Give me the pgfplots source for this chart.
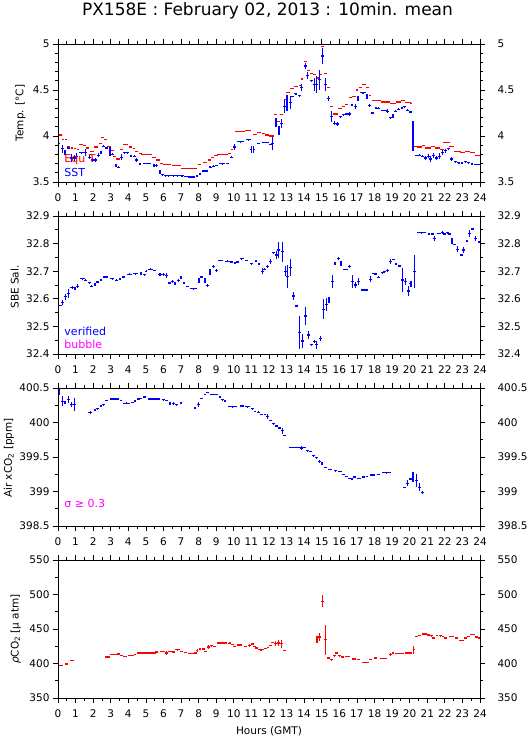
\documentclass[border=0pt]{standalone}
\usepackage{fontspec}
\setmainfont{DejaVu Sans}
\usepackage{pgfplots}
\pgfplotsset{compat=1.18}
\usepackage{pgfplotstable}

\definecolor{pblue}{RGB}{0,0,255}
\definecolor{pred}{RGB}{255,0,0}
\definecolor{pmag}{RGB}{255,0,255}

\pgfplotstableread{
x y ex ey
0.10 4.01 0.10 0
0.28 3.96 0.08 0
0.45 3.96 0.08 0
0.62 3.89 0.08 0
0.80 3.87 0.08 0
0.97 3.86 0.08 0
1.14 3.85 0.08 0
1.30 3.91 0.12 0
1.52 3.90 0.10 0
1.70 3.87 0.08 0
1.92 3.83 0.10 0
2.17 3.88 0.10 0
2.40 3.92 0.08 0
2.55 3.98 0.08 0
2.72 3.96 0.08 0
2.90 3.89 0.10 0
3.08 3.84 0.08 0
3.22 3.78 0.10 0
3.42 3.75 0.10 0
3.62 3.85 0.08 0
3.85 3.91 0.15 0
4.12 3.88 0.10 0
4.32 3.86 0.08 0
4.48 3.83 0.08 0
4.68 3.81 0.08 0
4.95 3.80 0.25 0
5.25 3.80 0.10 0
5.45 3.77 0.10 0
5.70 3.74 0.12 0
5.90 3.70 0.08 0
6.20 3.69 0.25 0
6.75 3.68 0.25 0
7.45 3.65 0.45 0
8.05 3.69 0.10 0
8.35 3.71 0.10 0
8.62 3.74 0.08 0
8.80 3.77 0.10 0
9.00 3.79 0.10 0
9.35 3.80 0.30 0
9.75 3.81 0.08 0
9.90 3.85 0.08 0
10.35 4.05 0.30 0
10.80 4.06 0.15 0
11.20 4.02 0.10 0
11.45 4.04 0.12 0
11.70 4.03 0.10 0
11.90 4.01 0.10 0
12.15 4.00 0.15 0
12.37 4.23 0.10 0
12.55 4.16 0.08 0
12.72 4.23 0.08 0
12.92 4.40 0.08 0
13.08 4.47 0.10 0
13.30 4.52 0.10 0
13.55 4.54 0.12 0
13.78 4.55 0.08 0
13.90 4.62 0.06 0
14.06 4.81 0.08 0
14.25 4.71 0.08 0
14.42 4.68 0.08 0
14.60 4.67 0.08 0
14.76 4.63 0.08 0
14.92 4.67 0.08 0
15.05 4.97 0.08 0
15.20 4.68 0.08 0
15.38 4.53 0.08 0
15.55 4.32 0.08 0
15.78 4.24 0.16 0
16.05 4.30 0.10 0
16.22 4.32 0.08 0
16.42 4.34 0.10 0
16.62 4.42 0.08 0
16.85 4.43 0.12 0
17.00 4.50 0.08 0
17.20 4.53 0.10 0
17.40 4.56 0.10 0
17.60 4.53 0.08 0
17.72 4.44 0.06 0
17.95 4.39 0.10 0
18.20 4.39 0.15 0
18.62 4.37 0.27 0
19.05 4.35 0.15 0
19.35 4.37 0.15 0
19.62 4.39 0.12 0
19.90 4.36 0.15 0
20.08 4.35 0.08 0
20.28 3.89 0.12 0
20.55 3.88 0.15 0
20.78 3.90 0.10 0
21.05 3.87 0.15 0
21.33 3.89 0.12 0
21.60 3.87 0.15 0
21.85 3.85 0.12 0
22.10 3.93 0.18 0
22.38 3.89 0.12 0
22.70 3.83 0.20 0
23.02 3.82 0.13 0
23.30 3.83 0.15 0
23.57 3.82 0.13 0
23.85 3.79 0.15 0
}\tEqu

\pgfplotstableread{
x y ex ey
0.05 3.92 0.06 0
0.25 3.86 0.08 0.04
0.40 3.82 0.08 0.03
0.58 3.87 0.08 0.01
0.78 3.76 0.08 0.04
0.92 3.76 0.08 0.03
1.07 3.78 0.08 0.03
1.35 3.82 0.17 0.01
1.55 3.82 0.08 0.04
1.78 3.77 0.08 0.02
1.97 3.74 0.08 0.02
2.12 3.74 0.08 0.02
2.30 3.79 0.08 0.02
2.45 3.82 0.08 0.02
2.60 3.89 0.08 0.01
2.77 3.87 0.08 0.01
2.96 3.83 0.08 0.05
3.10 3.80 0.08 0.01
3.30 3.68 0.08 0.02
3.46 3.66 0.08 0.01
3.62 3.77 0.08 0.03
3.80 3.82 0.08 0.01
3.96 3.82 0.08 0.01
4.15 3.78 0.08 0.01
4.33 3.78 0.08 0.01
4.48 3.74 0.08 0.02
4.66 3.70 0.08 0.01
5.07 3.70 0.23 0
5.46 3.68 0.08 0.02
5.62 3.68 0.08 0.02
5.80 3.61 0.08 0.02
5.95 3.58 0.08 0.01
6.12 3.57 0.08 0.005
6.30 3.57 0.10 0.005
6.55 3.57 0.12 0.005
6.80 3.57 0.12 0.005
7.05 3.57 0.12 0.005
7.30 3.56 0.12 0.005
7.60 3.555 0.18 0
7.90 3.57 0.08 0.005
8.08 3.59 0.08 0.01
8.27 3.62 0.08 0.01
8.45 3.62 0.08 0.01
8.65 3.66 0.08 0.01
8.83 3.67 0.08 0.01
9.02 3.68 0.08 0.01
9.35 3.70 0.17 0.005
9.62 3.70 0.08 0
9.87 3.77 0.08 0.01
10.05 3.88 0.08 0.03
10.40 3.94 0.20 0.005
10.85 3.96 0.13 0.005
11.00 3.85 0.06 0.04
11.13 3.85 0.06 0.04
11.40 3.92 0.10 0.005
11.80 3.93 0.20 0.005
12.07 3.91 0.08 0.005
12.20 3.92 0.06 0.07
12.40 4.15 0.08 0.05
12.57 4.06 0.08 0.05
12.73 4.14 0.08 0.05
12.87 4.32 0.08 0.07
13.02 4.36 0.08 0.09
13.20 4.36 0.08 0.07
13.35 4.43 0.08 0.01
13.53 4.46 0.08 0.01
13.72 4.44 0.08 0.01
13.87 4.53 0.08 0.04
14.06 4.76 0.08 0.03
14.21 4.66 0.08 0.04
14.40 4.60 0.08 0.01
14.57 4.56 0.08 0.07
14.72 4.56 0.08 0.09
14.88 4.61 0.08 0.11
15.05 4.87 0.08 0.09
15.20 4.56 0.08 0.07
15.39 4.41 0.08 0.03
15.54 4.21 0.08 0.06
15.73 4.14 0.08 0.02
15.90 4.13 0.08 0.02
16.05 4.21 0.08 0.01
16.24 4.23 0.08 0.01
16.43 4.24 0.08 0.01
16.58 4.24 0.08 0.02
16.72 4.34 0.08 0.01
16.90 4.32 0.08 0.03
17.06 4.41 0.08 0.03
17.35 4.47 0.16 0.005
17.57 4.43 0.08 0.03
17.70 4.33 0.08 0.02
17.90 4.25 0.08 0.01
18.08 4.30 0.08 0.01
18.23 4.30 0.08 0.01
18.55 4.28 0.16 0.005
18.75 4.27 0.08 0.02
18.90 4.20 0.08 0.01
19.05 4.22 0.08 0.02
19.18 4.27 0.08 0.01
19.37 4.29 0.08 0.01
19.56 4.30 0.08 0.01
19.72 4.32 0.08 0.005
19.87 4.28 0.08 0.01
20.04 4.26 0.08 0.01
20.19 4.00 0.08 0.16
20.38 3.79 0.08 0.005
20.57 3.79 0.08 0.01
20.72 3.78 0.08 0.01
20.90 3.76 0.08 0.02
21.05 3.78 0.08 0.02
21.20 3.75 0.08 0.03
21.37 3.79 0.08 0.03
21.52 3.76 0.08 0.02
21.70 3.78 0.08 0.03
21.87 3.82 0.08 0.03
22.04 3.84 0.08 0.02
22.20 3.86 0.08 0.01
22.40 3.75 0.08 0.02
22.60 3.72 0.08 0.005
22.80 3.71 0.08 0.01
22.98 3.71 0.08 0.01
23.17 3.72 0.08 0.01
23.36 3.71 0.08 0.01
23.55 3.70 0.08 0.005
23.85 3.69 0.17 0
}\tSST

\pgfplotstableread{
x y ex ey
0.12 32.576 0.12 0
0.25 32.586 0.08 0.01
0.44 32.607 0.08 0.01
0.59 32.619 0.08 0.015
0.82 32.641 0.12 0.005
0.97 32.637 0.08 0.005
1.12 32.646 0.08 0.006
1.38 32.673 0.13 0.003
1.57 32.667 0.08 0.003
1.78 32.658 0.08 0.003
1.91 32.646 0.08 0.003
2.10 32.651 0.08 0.005
2.26 32.661 0.08 0.003
2.45 32.667 0.08 0.003
2.70 32.679 0.12 0.002
3.08 32.673 0.12 0.002
3.34 32.667 0.08 0.003
3.53 32.673 0.08 0.003
3.72 32.679 0.08 0.005
4.05 32.689 0.15 0.003
4.42 32.691 0.15 0.003
4.72 32.693 0.08 0.005
4.90 32.688 0.08 0.003
5.02 32.700 0.06 0.003
5.28 32.707 0.14 0.003
5.50 32.703 0.08 0.003
5.80 32.689 0.10 0.005
5.99 32.689 0.08 0.005
6.18 32.685 0.08 0.01
6.33 32.657 0.08 0.005
6.50 32.664 0.08 0.005
6.65 32.655 0.08 0.005
6.84 32.667 0.08 0.005
7.00 32.677 0.08 0.005
7.17 32.657 0.08 0.005
7.36 32.645 0.08 0.003
7.70 32.637 0.20 0.002
8.02 32.667 0.08 0.01
8.17 32.679 0.08 0.003
8.36 32.667 0.08 0.01
8.50 32.649 0.08 0.006
8.64 32.697 0.08 0.012
8.83 32.718 0.08 0.005
9.02 32.703 0.08 0.005
9.26 32.739 0.14 0.003
9.64 32.736 0.14 0.003
9.88 32.733 0.08 0.003
10.07 32.730 0.08 0.003
10.22 32.733 0.08 0.003
10.45 32.745 0.10 0.003
10.73 32.739 0.08 0.003
11.01 32.727 0.10 0.003
11.26 32.736 0.08 0.003
11.43 32.727 0.08 0.003
11.62 32.700 0.08 0.01
11.76 32.707 0.08 0.003
11.91 32.716 0.08 0.005
12.09 32.735 0.08 0.01
12.24 32.767 0.08 0.003
12.43 32.759 0.08 0.015
12.56 32.777 0.08 0.03
12.75 32.771 0.08 0.036
12.94 32.700 0.08 0.018
13.07 32.680 0.08 0.042
13.22 32.714 0.08 0.03
13.41 32.610 0.08 0.015
13.56 32.574 0.08 0.005
13.74 32.477 0.08 0.06
13.91 32.447 0.08 0.024
14.06 32.538 0.08 0.034
14.25 32.469 0.08 0.015
14.40 32.433 0.08 0.003
14.59 32.445 0.08 0.006
14.72 32.433 0.08 0.015
14.91 32.457 0.08 0.01
15.10 32.562 0.08 0.036
15.25 32.578 0.08 0.024
15.41 32.596 0.08 0.01
15.60 32.662 0.08 0.024
15.75 32.728 0.08 0.005
15.94 32.747 0.08 0.005
16.09 32.728 0.08 0.01
16.36 32.707 0.14 0.002
16.60 32.716 0.08 0.005
16.75 32.664 0.08 0.024
16.92 32.650 0.08 0.012
17.07 32.662 0.08 0.012
17.44 32.632 0.19 0.002
17.76 32.671 0.08 0.01
17.91 32.692 0.08 0.003
18.06 32.690 0.08 0.003
18.25 32.678 0.08 0.003
18.44 32.695 0.08 0.003
18.57 32.698 0.08 0.003
18.75 32.702 0.08 0.005
18.90 32.735 0.08 0.008
19.07 32.743 0.08 0.003
19.22 32.726 0.08 0.005
19.41 32.719 0.08 0.005
19.60 32.668 0.08 0.042
19.75 32.662 0.08 0.012
19.92 32.628 0.08 0.018
20.07 32.654 0.08 0.01
20.26 32.698 0.08 0.06
20.68 32.840 0.24 0.003
21.10 32.835 0.08 0.005
21.29 32.835 0.08 0.005
21.42 32.819 0.08 0.01
21.67 32.837 0.10 0.003
21.85 32.841 0.08 0.005
21.98 32.835 0.08 0.005
22.13 32.840 0.08 0.003
22.28 32.835 0.08 0.005
22.41 32.810 0.08 0.01
22.57 32.797 0.08 0.003
22.73 32.780 0.08 0.012
22.95 32.759 0.10 0.002
23.07 32.777 0.08 0.01
23.26 32.809 0.08 0.003
23.42 32.837 0.08 0.012
23.59 32.853 0.08 0.003
23.74 32.819 0.08 0.01
23.94 32.807 0.08 0.002
}\tSal

\pgfplotstableread{
x y ex ey
0.06 400.44 0.06 0.04
0.25 400.31 0.08 0.07
0.40 400.29 0.08 0.02
0.59 400.33 0.08 0.05
0.78 400.26 0.08 0.03
0.93 400.26 0.08 0.09
1.83 400.15 0.12 0.02
2.10 400.18 0.08 0.02
2.26 400.20 0.08 0.01
2.45 400.24 0.08 0.01
2.58 400.26 0.08 0.01
2.77 400.32 0.08 0.01
3.20 400.34 0.25 0.01
3.58 400.32 0.08 0.01
3.91 400.28 0.20 0.01
4.23 400.29 0.08 0.01
4.38 400.31 0.08 0.01
4.57 400.34 0.08 0.01
4.72 400.35 0.08 0.01
4.91 400.37 0.08 0.01
5.45 400.34 0.35 0.01
5.99 400.33 0.08 0.01
6.18 400.32 0.08 0.01
6.37 400.28 0.08 0.02
6.56 400.28 0.08 0.02
6.75 400.26 0.08 0.01
7.00 400.28 0.08 0.01
7.79 400.21 0.08 0.01
7.98 400.26 0.08 0.04
8.17 400.35 0.08 0.01
8.36 400.41 0.08 0.01
8.51 400.44 0.08 0.005
8.88 400.41 0.24 0.01
9.21 400.37 0.08 0.01
9.37 400.33 0.08 0.01
9.50 400.31 0.08 0.01
9.92 400.23 0.24 0.01
10.45 400.24 0.10 0.01
10.78 400.23 0.15 0.01
11.07 400.20 0.08 0.01
11.20 400.16 0.08 0.01
11.39 400.15 0.08 0.01
11.58 400.12 0.08 0.01
11.77 400.12 0.08 0.01
11.90 400.09 0.08 0.04
12.07 400.03 0.08 0.005
12.26 399.98 0.08 0.005
12.41 399.95 0.08 0.01
12.60 399.92 0.08 0.01
12.75 399.88 0.08 0.04
12.88 399.81 0.08 0
13.45 399.64 0.33 0.005
13.87 399.63 0.08 0.025
14.02 399.64 0.08 0.01
14.19 399.59 0.08 0.01
14.35 399.58 0.08 0.01
14.54 399.52 0.08 0.01
14.69 399.49 0.08 0.01
14.88 399.44 0.08 0.02
15.01 399.41 0.08 0.02
15.20 399.35 0.08 0.01
15.48 399.32 0.12 0.01
15.77 399.30 0.08 0.01
16.05 399.29 0.12 0.005
16.24 399.25 0.08 0.01
16.43 399.22 0.08 0.01
16.58 399.19 0.08 0.01
16.72 399.18 0.08 0.01
16.87 399.21 0.08 0.01
17.10 399.19 0.12 0.01
17.38 399.21 0.08 0.005
17.57 399.22 0.08 0.005
17.90 399.24 0.15 0.01
18.23 399.25 0.08 0.01
18.66 399.27 0.25 0.005
19.72 399.06 0.08 0.01
19.89 399.12 0.08 0.04
20.04 399.18 0.08 0.02
20.19 399.21 0.08 0.07
20.38 399.16 0.08 0.10
20.57 399.06 0.08 0.06
20.74 398.98 0.08 0.02
}\tAir

\pgfplotstableread{
x y ex ey
0.15 396.9 0.15 0
0.49 399.3 0.09 2
0.80 404.6 0.12 0.5
2.82 409.4 0.14 0
3.15 412.8 0.19 0
3.43 413.8 0.08 0
3.60 411.8 0.08 0
3.81 410.4 0.10 0
4.15 411.4 0.15 0
4.38 412.8 0.08 0
5.05 415.2 0.55 0
5.62 416.7 0.08 1
5.95 417.6 0.15 1
6.19 415.2 0.08 2.4
6.37 417.6 0.10 0.5
6.57 416.7 0.08 0
6.80 420.0 0.15 1
7.04 417.6 0.08 0
7.23 416.2 0.08 0
7.56 414.3 0.15 0
7.80 415.2 0.08 0
7.92 419.1 0.06 2.4
8.08 421.5 0.08 1
8.27 421.0 0.08 0.5
8.40 417.6 0.08 0
8.56 423.9 0.08 2.4
8.75 425.8 0.08 0.5
8.90 424.9 0.08 0
9.32 429.7 0.30 0.5
9.70 428.7 0.06 0
9.79 429.7 0.05 0
9.92 427.3 0.08 0
10.04 424.9 0.08 1
10.31 426.8 0.15 0
10.65 424.9 0.10 0
10.89 425.8 0.08 2.4
11.04 428.3 0.08 1
11.18 424.9 0.08 0
11.31 422.5 0.08 0
11.55 420.0 0.15 1
11.78 421.5 0.08 0
11.94 423.4 0.08 0
12.07 425.8 0.08 0
12.22 430.7 0.08 0
12.39 428.7 0.08 3.9
12.56 429.7 0.08 4.8
12.73 428.7 0.08 5.8
12.88 419.1 0.08 0.5
14.73 434.5 0.08 4.8
14.88 438.4 0.08 5.8
15.05 490.1 0.08 8.7
15.20 434.5 0.08 21.7
15.39 408.0 0.08 1
15.54 405.6 0.08 1
15.73 411.4 0.08 1
15.86 415.2 0.08 0
16.02 411.4 0.08 1
16.20 409.4 0.08 0
16.48 410.4 0.14 0
16.82 406.5 0.10 0
17.10 405.6 0.10 0
17.48 401.7 0.19 0
17.76 405.6 0.08 0
18.05 408.0 0.10 0
18.52 407.0 0.19 0
18.90 412.8 0.08 2.4
19.05 415.2 0.08 1
19.42 414.3 0.24 0
19.94 415.2 0.19 0
20.23 420.0 0.06 5.8
20.38 439.4 0.08 1
20.57 440.8 0.08 0
20.85 442.8 0.15 0
21.08 441.3 0.08 0.5
21.23 440.3 0.08 0.5
21.37 436.9 0.08 1
21.55 440.3 0.08 0
21.74 440.3 0.08 1
21.90 439.4 0.08 1
22.03 436.9 0.08 0
22.36 439.4 0.14 0
22.66 436.9 0.08 1
22.93 433.6 0.14 0
23.17 436.9 0.08 0.5
23.36 439.4 0.08 1
23.49 441.8 0.08 0
23.64 441.8 0.08 0
23.80 438.4 0.08 1
23.96 436.9 0.08 0
}\tPco

\pgfplotsset{
  panel/.style={
    scale only axis, width=422pt, height=138pt,
    xmin=0, xmax=24, xtick={0,1,...,24}, minor x tick num=1,
    tick align=outside, major tick length=5pt, minor tick length=3pt,
    axis line style={line width=0.8pt},
    every tick/.style={line width=0.8pt, black},
    tick label style={font=\fontsize{10.5}{12}\selectfont},
    xticklabel style={yshift=-3.5pt},
    /pgf/number format/assume math mode=true,
    scaled y ticks=false,
    xticklabel pos=lower,
    yticklabel pos=left,
    clip=true,
  },
  rightside/.style={panel, yticklabel pos=right, xticklabels={},
    yticklabel style={xshift=9pt}},
  p1y/.style={ymin=3.5, ymax=5, ytick={3.5,4,4.5,5}, minor y tick num=4},
  p2y/.style={ymin=32.4, ymax=32.9, ytick={32.4,32.5,32.6,32.7,32.8,32.9}, minor y tick num=1},
  p3y/.style={ymin=398.5, ymax=400.5, ytick={398.5,399,399.5,400,400.5}, minor y tick num=1},
  p4y/.style={ymin=350, ymax=550, ytick={350,400,450,500,550}, minor y tick num=1},
  ebar/.style={draw=none, mark=none,
    error bars/.cd, x dir=both, x explicit, y dir=both, y explicit,
    error mark=none, error bar style={draw=#1, solid, line width=1.2pt}},
}

\begin{document}
\begin{tikzpicture}
\path[use as bounding box] (0pt,0pt) rectangle (529pt,739pt);

% Title
\node[anchor=base, font=\fontsize{17}{20}\selectfont] at (267.5pt,723pt)
  {PX158E : February 02, 2013 : 10min. mean};

% Panel 1
\begin{axis}[panel, p1y, at={(58pt,557pt)}, anchor=south west]
  \addplot[ebar=pred] table[x=x, y=y, x error=ex, y error=ey] {\tEqu};
  \addplot[ebar=pblue] table[x=x, y=y, x error=ex, y error=ey] {\tSST};
  \node[anchor=base west, text=pred, font=\fontsize{11}{13}\selectfont] at (rel axis cs:0.007,0.142) {Equ T};
  \node[anchor=base west, text=pblue, font=\fontsize{11}{13}\selectfont] at (rel axis cs:0.007,0.038) {SST};
\end{axis}
\begin{axis}[rightside, p1y, at={(58pt,557pt)}, anchor=south west]
\end{axis}

% Panel 2
\begin{axis}[panel, p2y, at={(58pt,385pt)}, anchor=south west]
  \addplot[ebar=pblue] table[x=x, y=y, x error=ex, y error=ey] {\tSal};
  \node[anchor=base west, text=pblue, font=\fontsize{11}{13}\selectfont] at (rel axis cs:0.007,0.133) {verified};
  \node[anchor=base west, text=pmag, font=\fontsize{11}{13}\selectfont] at (rel axis cs:0.007,0.038) {bubble};
\end{axis}
\begin{axis}[rightside, p2y, at={(58pt,385pt)}, anchor=south west]
\end{axis}

% Panel 3
\begin{axis}[panel, p3y, at={(58pt,213pt)}, anchor=south west]
  \addplot[ebar=pblue] table[x=x, y=y, x error=ex, y error=ey] {\tAir};
  \node[anchor=base west, text=pmag, font=\fontsize{11}{13}\selectfont] at (rel axis cs:0.007,0.133) {σ ≥ 0.3};
\end{axis}
\begin{axis}[rightside, p3y, at={(58pt,213pt)}, anchor=south west]
\end{axis}

% Panel 4
\begin{axis}[panel, p4y, at={(58pt,41pt)}, anchor=south west]
  \addplot[ebar=pred] table[x=x, y=y, x error=ex, y error=ey] {\tPco};
\end{axis}
\begin{axis}[rightside, p4y, at={(58pt,41pt)}, anchor=south west]
\end{axis}

% y labels
\node[rotate=90, anchor=base, font=\fontsize{10.5}{12}\selectfont] at (23.5pt,626pt) {Temp. [°C]};
\node[rotate=90, anchor=base, font=\fontsize{10.5}{12}\selectfont] at (18.5pt,452pt) {SBE Sal.};
\node[rotate=90, anchor=base, font=\fontsize{10.5}{12}\selectfont] at (12pt,281pt) {Air xCO\textsubscript{2} [ppm]};
\node[rotate=90, anchor=base, font=\fontsize{10.5}{12}\selectfont] at (18.5pt,110pt) {\textit{ρ}CO\textsubscript{2} [μ atm]};

% x label
\node[anchor=base, font=\fontsize{10.5}{12}\selectfont] at (269pt,4.5pt) {Hours (GMT)};
\end{tikzpicture}
\end{document}
